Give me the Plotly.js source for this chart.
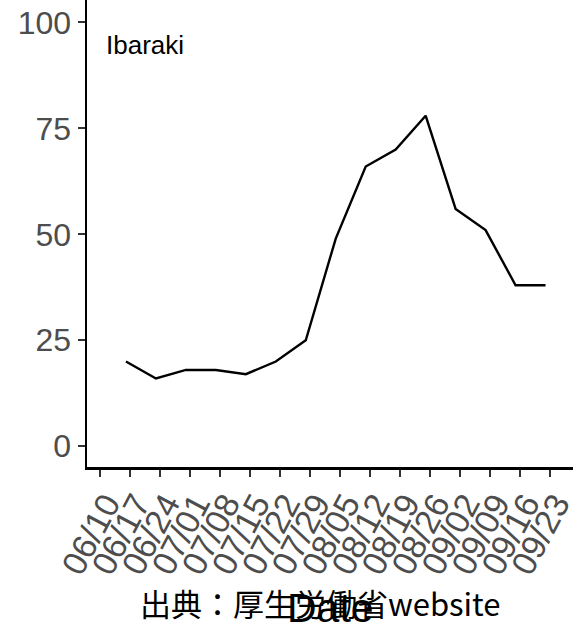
<!DOCTYPE html>
<html>
<head>
<meta charset="utf-8">
<script src="https://cdn.plot.ly/plotly-3.0.1.min.js"></script>
<style>html,body{margin:0;padding:0;background:#fff;}#chart{width:573px;height:624px;}</style>
</head>
<body>
<div id="chart"></div>
<script>
// Tick positions (weekly) and their labels
const tickDates = ["2020-06-10","2020-06-17","2020-06-24","2020-07-01","2020-07-08","2020-07-15","2020-07-22","2020-07-29","2020-08-05","2020-08-12","2020-08-19","2020-08-26","2020-09-02","2020-09-09","2020-09-16","2020-09-23"];
const tickLabels = ["06/10","06/17","06/24","07/01","07/08","07/15","07/22","07/29","08/05","08/12","08/19","08/26","09/02","09/09","09/16","09/23"];
// Series: Ibaraki
const dates = ["2020-06-16","2020-06-23","2020-06-30","2020-07-07","2020-07-14","2020-07-21","2020-07-28","2020-08-04","2020-08-11","2020-08-18","2020-08-25","2020-09-01","2020-09-08","2020-09-15","2020-09-22"];
const values = [20,16,18,18,17,20,25,49,66,70,78,56,51,38,38];
const yTicks = [0,25,50,75,100];
const panelLabel = "Ibaraki";
const xTitle = "Date";
const sourceText = "出典：厚生労働省website";

const trace = {
  x: dates, y: values, type: "scatter", mode: "lines",
  line: {color: "#000000", width: 2.4}, hoverinfo: "skip"
};

const layout = {
  width: 573, height: 624,
  margin: {l: 87, r: 0, t: 0, b: 157, pad: 0},
  paper_bgcolor: "#ffffff", plot_bgcolor: "#ffffff",
  showlegend: false,
  xaxis: {
    type: "date",
    range: ["2020-06-06 21:36", "2020-09-28 10:00"],
    tickmode: "array", tickvals: tickDates, ticktext: tickLabels,
    tickangle: -62,
    ticklabelshift: 6,
    ticklabelstandoff: -6,
    ticklabeloverflow: "allow",
    showgrid: false, zeroline: false,
    showline: true, linecolor: "#000000", linewidth: 2.5,
    ticks: "outside", ticklen: 7, tickwidth: 2, tickcolor: "#333333",
    tickfont: {family: "Liberation Sans, Arial, sans-serif", size: 34, color: "#4d4d4d"},
    automargin: false
  },
  yaxis: {
    range: [-4.9, 105.3],
    tickmode: "array", tickvals: yTicks,
    showgrid: false, zeroline: false,
    showline: true, linecolor: "#000000", linewidth: 2.5,
    ticks: "outside", ticklen: 7, tickwidth: 2, tickcolor: "#333333",
    tickfont: {family: "Liberation Sans, Arial, sans-serif", size: 32, color: "#4d4d4d"},
    automargin: false
  },
  annotations: [
    {text: panelLabel, xref: "paper", yref: "paper", x: 0.0346, y: 0.904,
     xanchor: "left", yanchor: "middle", showarrow: false,
     font: {family: "Liberation Sans, Arial, sans-serif", size: 26, color: "#000000"}},
    {text: xTitle, xref: "paper", yref: "paper", x: 0.5, y: -0.249,
     xanchor: "center", yanchor: "top", showarrow: false,
     font: {family: "Liberation Sans, Arial, sans-serif", size: 41, color: "#000000"}},
    {text: sourceText, xref: "paper", yref: "paper", x: 0.104, y: -0.291,
     xanchor: "left", yanchor: "middle", showarrow: false,
     font: {family: "Noto Sans CJK JP, Noto Sans, sans-serif", size: 31, color: "#000000"}}
  ]
};

Plotly.newPlot("chart", [trace], layout, {staticPlot: true, displayModeBar: false});
</script>
</body>
</html>
